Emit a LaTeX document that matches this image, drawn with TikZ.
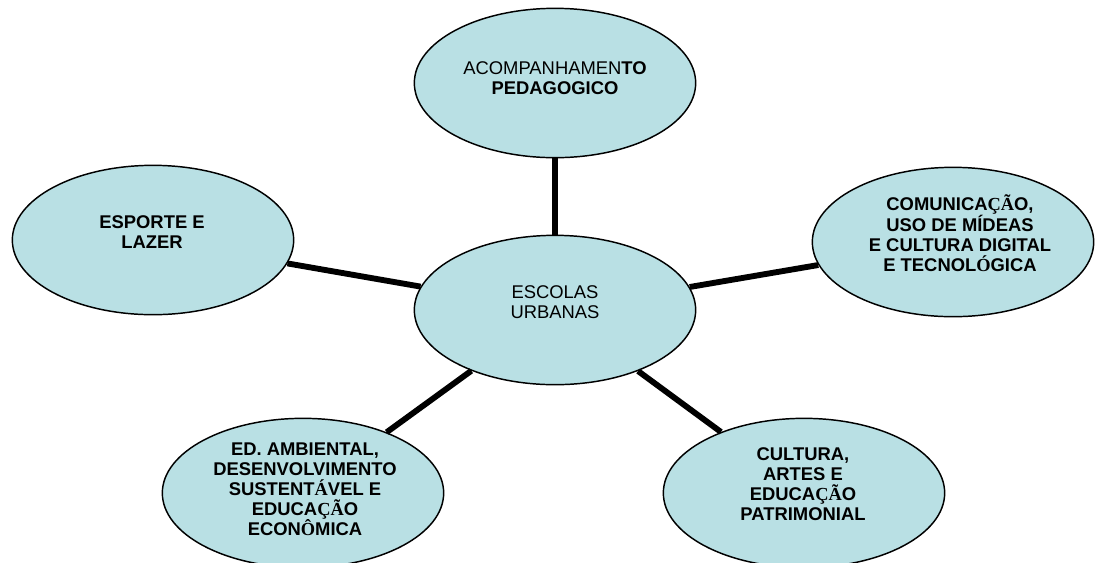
\documentclass[tikz,border=0pt]{standalone}
\usepackage{fontspec}
\setmainfont{Liberation Sans}
\newfontfamily\accfont{Liberation Serif}
\usetikzlibrary{shapes.geometric}
\definecolor{bubblefill}{RGB}{185,224,228}
% accented letters come out in a serif face
\newcommand{\acc}[1]{{\accfont\bfseries #1}}

\begin{document}
\begin{tikzpicture}[x=0.75pt,y=-0.75pt,
bubblestyle/.style={ellipse,draw,line width=1.1pt,fill=bubblefill,
  minimum width=211pt,minimum height=112pt,inner sep=0pt},
linkstyle/.style={line width=4.4pt},
labelstyle/.style={align=center,inner sep=0pt,
  font=\fontsize{13.8}{15}\selectfont}]

\clip (0,0) rectangle (1095,562);

\node[bubblestyle](hub)    at (555,310) {};
\node[bubblestyle](top)    at (555,83)  {};
\node[bubblestyle](left)   at (153,240) {};
\node[bubblestyle](right)  at (953,242) {};
\node[bubblestyle](bleft)  at (303,493) {};
\node[bubblestyle](bright) at (804,493) {};

\draw[linkstyle] (hub) -- (top);
\draw[linkstyle] (hub) -- (left);
\draw[linkstyle] (hub) -- (right);
\draw[linkstyle] (hub) -- (bleft);
\draw[linkstyle] (hub) -- (bright);

\node[labelstyle](hubtext) at (555,302) {ESCOLAS\\URBANAS};
\node[labelstyle](toptext) at (555,78.5) {ACOMPANHAMEN\textbf{TO}\\\textbf{PEDAGOGICO}};
\node[labelstyle,font=\fontsize{13.8}{15}\selectfont\bfseries](lefttext) at (152,232.5) {ESPORTE E\\LAZER};
\node[labelstyle,font=\fontsize{13.8}{15}\selectfont\bfseries](righttext) at (960,233)
  {COMUNICA\acc{ÇÃ}O,\\USO DE MÍDEAS\\E CULTURA DIGITAL\\E TECNOL\acc{Ó}GICA};
\node[labelstyle,font=\fontsize{13.8}{15}\selectfont\bfseries](blefttext) at (305,489.5)
  {ED. AMBIENTAL,\\DESENVOLVIMENTO\\SUSTENT\acc{Á}VEL E\\EDUCA\acc{ÇÃ}O\\ECON\acc{Ô}MICA};
\node[labelstyle,font=\fontsize{13.8}{15}\selectfont\bfseries](brighttext) at (803,484.5)
  {CULTURA,\\ARTES E\\EDUCA\acc{ÇÃ}O\\PATRIMONIAL};

\end{tikzpicture}
\end{document}
